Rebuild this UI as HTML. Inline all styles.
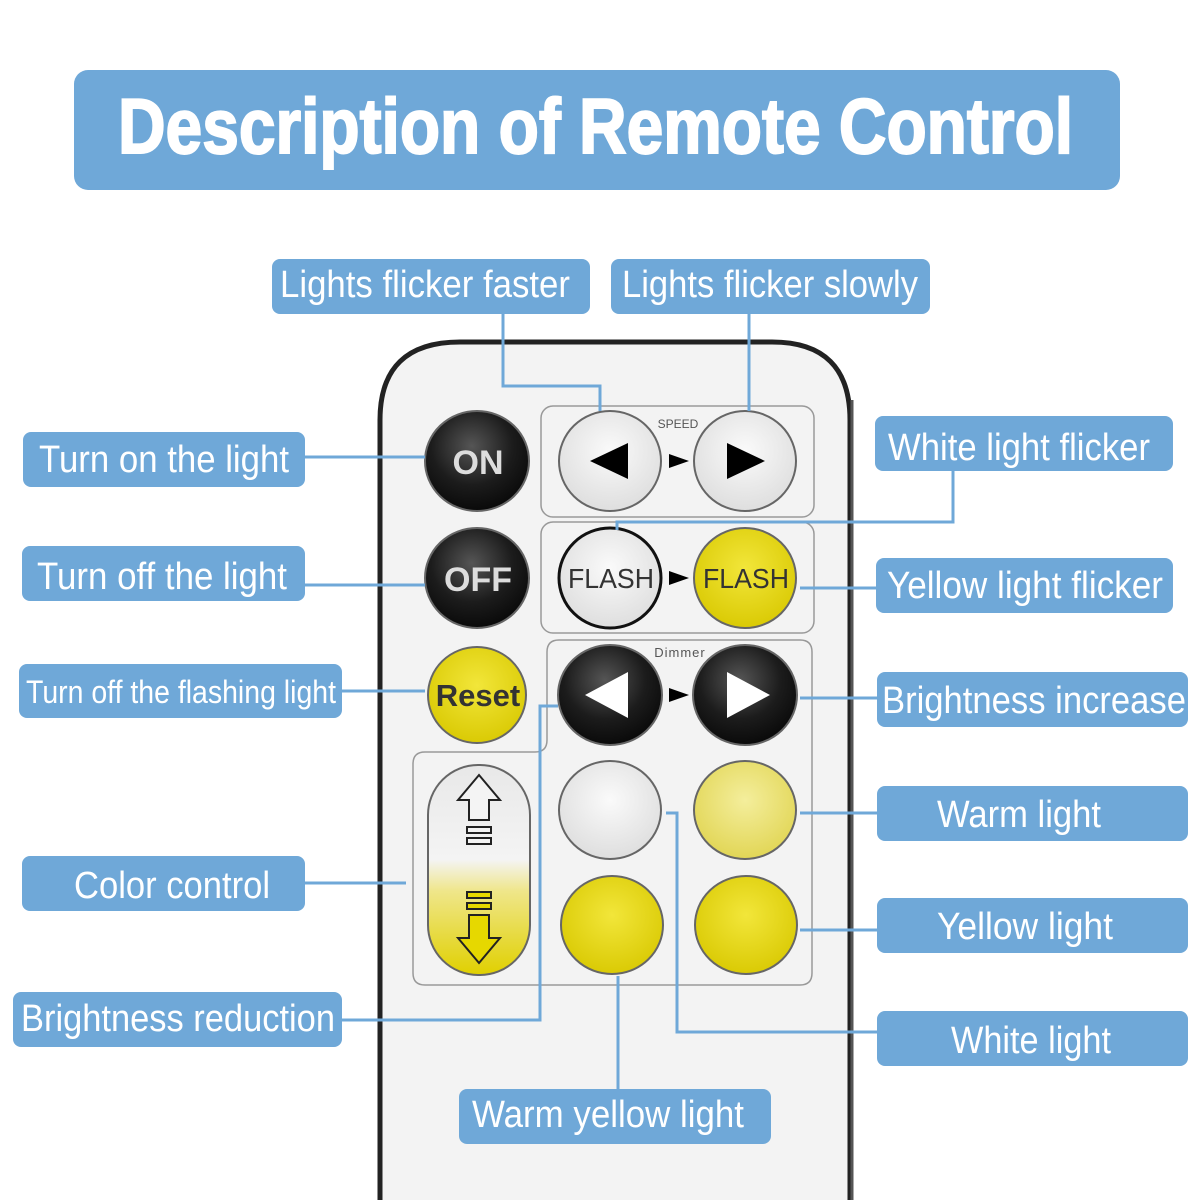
<!DOCTYPE html>
<html><head><style>
html,body{margin:0;padding:0;background:#fff;}
svg{display:block}
.lb{fill:#6fa8d8}
.t{fill:#fff;font-family:"Liberation Sans",sans-serif;font-size:38px}
.c{stroke:#6fa8d8;stroke-width:3;fill:none}
</style></head><body>
<svg width="1200" height="1200" viewBox="0 0 1200 1200" xmlns="http://www.w3.org/2000/svg">
<defs>
<radialGradient id="bk" cx="45%" cy="35%" r="65%"><stop offset="0" stop-color="#555"/><stop offset="0.6" stop-color="#1c1c1c"/><stop offset="1" stop-color="#0a0a0a"/></radialGradient>
<radialGradient id="wh" cx="50%" cy="40%" r="65%"><stop offset="0" stop-color="#fafafa"/><stop offset="1" stop-color="#dcdcdc"/></radialGradient>
<radialGradient id="ye" cx="50%" cy="40%" r="65%"><stop offset="0" stop-color="#f2e63a"/><stop offset="1" stop-color="#d8c800"/></radialGradient>
<radialGradient id="py" cx="50%" cy="40%" r="65%"><stop offset="0" stop-color="#f4ee9c"/><stop offset="1" stop-color="#e0d450"/></radialGradient>
<linearGradient id="pill" x1="0" y1="0" x2="0" y2="1"><stop offset="0" stop-color="#e8e8e8"/><stop offset="0.45" stop-color="#f4f4f4"/><stop offset="0.6" stop-color="#efe68a"/><stop offset="1" stop-color="#e0d000"/></linearGradient>
</defs>
<rect x="74" y="70" width="1046" height="120" rx="14" class="lb"/>
<text x="118" y="153" fill="#fff" stroke="#fff" stroke-width="2" font-family="Liberation Sans,sans-serif" font-weight="bold" font-size="78" textLength="955" lengthAdjust="spacingAndGlyphs">Description of Remote Control</text>

<path d="M380,1200 V420 Q380,342 460,342 H772 Q850,342 850,420 V1200" fill="#f3f3f3" stroke="#222" stroke-width="5"/>
<path d="M852,400 V1200" stroke="#555" stroke-width="3"/>

<g fill="none" stroke="#999" stroke-width="1.5">
<rect x="541" y="406" width="273" height="111" rx="12"/>
<rect x="541" y="522" width="273" height="111" rx="12"/>
<path d="M559,640 H800 Q812,640 812,652 V973 Q812,985 800,985 H425 Q413,985 413,973 V764 Q413,752 425,752 H535 Q547,752 547,740 V652 Q547,640 559,640 Z"/>
</g>

<g stroke="#666" stroke-width="2">
<ellipse cx="477" cy="461" rx="52" ry="50" fill="url(#bk)"/>
<ellipse cx="477" cy="578" rx="52" ry="50" fill="url(#bk)"/>
<ellipse cx="477" cy="695" rx="49" ry="48" fill="url(#ye)"/>
<ellipse cx="610" cy="461" rx="51" ry="50" fill="url(#wh)"/>
<ellipse cx="745" cy="461" rx="51" ry="50" fill="url(#wh)"/>
<ellipse cx="610" cy="578" rx="51" ry="50" fill="url(#wh)" stroke="#111" stroke-width="3"/>
<ellipse cx="745" cy="578" rx="51" ry="50" fill="url(#ye)"/>
<ellipse cx="610" cy="695" rx="52" ry="50" fill="url(#bk)"/>
<ellipse cx="745" cy="695" rx="52" ry="50" fill="url(#bk)"/>
<ellipse cx="610" cy="810" rx="51" ry="49" fill="url(#wh)"/>
<ellipse cx="745" cy="810" rx="51" ry="49" fill="url(#py)"/>
<ellipse cx="612" cy="925" rx="51" ry="49" fill="url(#ye)"/>
<ellipse cx="746" cy="925" rx="51" ry="49" fill="url(#ye)"/>
<rect x="428" y="765" width="102" height="210" rx="50" fill="url(#pill)"/>
</g>
<g font-family="Liberation Sans,sans-serif" font-weight="bold" text-anchor="middle">
<text x="478" y="474" font-size="34" fill="#ddd">ON</text>
<text x="478" y="591" font-size="34" fill="#ddd">OFF</text>
<text x="478" y="706" font-size="31" fill="#333">Reset</text>
</g>
<g font-family="Liberation Sans,sans-serif" text-anchor="middle" fill="#333">
<text x="611" y="588" font-size="28" textLength="86" lengthAdjust="spacingAndGlyphs">FLASH</text>
<text x="746" y="588" font-size="28" textLength="86" lengthAdjust="spacingAndGlyphs">FLASH</text>
<text x="678" y="428" font-size="12" fill="#555">SPEED</text>
<text x="680" y="657" font-size="13" fill="#555" letter-spacing="1">Dimmer</text>
</g>
<g fill="#000">
<polygon points="590,461 628,443 628,479"/>
<polygon points="765,461 727,443 727,479"/>
<polygon points="669,454 689,461 669,468"/>
<polygon points="669,571 689,578 669,585"/>
<polygon points="669,688 689,695 669,702"/>
</g>
<g fill="#fff">
<polygon points="585,695 628,672 628,718"/>
<polygon points="770,695 727,672 727,718"/>
</g>
<g fill="#f4f4f4" stroke="#222" stroke-width="2">
<polygon points="479,775 500,800 489,800 489,820 469,820 469,800 458,800"/>
<rect x="467" y="827" width="24" height="6"/><rect x="467" y="838" width="24" height="6"/>
<rect x="467" y="892" width="24" height="6" fill="#e6d800"/><rect x="467" y="903" width="24" height="6" fill="#e6d800"/>
<polygon points="479,963 500,938 489,938 489,915 469,915 469,938 458,938" fill="#e6d800"/>
</g>

<g class="c">
<path d="M503,314 V386 H600 V411"/>
<path d="M749,314 V411"/>
<path d="M305,457 H425"/>
<path d="M953,471 V522 H617 V530"/>
<path d="M305,585 H425"/>
<path d="M800,588 H876"/>
<path d="M342,691 H425"/>
<path d="M800,698 H877"/>
<path d="M800,813 H877"/>
<path d="M305,883 H406"/>
<path d="M800,930 H877"/>
<path d="M342,1020 H540 V706 H558"/>
<path d="M877,1032 H677 V813 H666"/>
<path d="M618,1089 V976"/>
</g>

<g>
<rect x="272" y="259" width="318" height="55" rx="8" class="lb"/>
<rect x="611" y="259" width="319" height="55" rx="8" class="lb"/>
<rect x="23" y="432" width="282" height="55" rx="8" class="lb"/>
<rect x="875" y="416" width="298" height="55" rx="8" class="lb"/>
<rect x="22" y="546" width="283" height="55" rx="8" class="lb"/>
<rect x="876" y="558" width="297" height="55" rx="8" class="lb"/>
<rect x="19" y="664" width="323" height="54" rx="8" class="lb"/>
<rect x="877" y="672" width="311" height="55" rx="8" class="lb"/>
<rect x="877" y="786" width="311" height="55" rx="8" class="lb"/>
<rect x="22" y="856" width="283" height="55" rx="8" class="lb"/>
<rect x="877" y="898" width="311" height="55" rx="8" class="lb"/>
<rect x="13" y="992" width="329" height="55" rx="8" class="lb"/>
<rect x="877" y="1011" width="311" height="55" rx="8" class="lb"/>
<rect x="459" y="1089" width="312" height="55" rx="8" class="lb"/>
</g>
<g class="t" text-anchor="middle">
<text x="425" y="297" textLength="290" lengthAdjust="spacingAndGlyphs">Lights flicker faster</text>
<text x="770" y="297" textLength="296" lengthAdjust="spacingAndGlyphs">Lights flicker slowly</text>
<text x="164" y="472" textLength="250" lengthAdjust="spacingAndGlyphs">Turn on the light</text>
<text x="1019" y="460" textLength="262" lengthAdjust="spacingAndGlyphs">White light flicker</text>
<text x="162" y="589" textLength="250" lengthAdjust="spacingAndGlyphs">Turn off the light</text>
<text x="1025" y="598" textLength="276" lengthAdjust="spacingAndGlyphs">Yellow light flicker</text>
<text x="181" y="703" font-size="32" textLength="310" lengthAdjust="spacingAndGlyphs">Turn off the flashing light</text>
<text x="1034" y="713" textLength="304" lengthAdjust="spacingAndGlyphs">Brightness increase</text>
<text x="1019" y="827" textLength="164" lengthAdjust="spacingAndGlyphs">Warm light</text>
<text x="172" y="898" textLength="196" lengthAdjust="spacingAndGlyphs">Color control</text>
<text x="1025" y="939" textLength="176" lengthAdjust="spacingAndGlyphs">Yellow light</text>
<text x="178" y="1031" textLength="314" lengthAdjust="spacingAndGlyphs">Brightness reduction</text>
<text x="1031" y="1053" textLength="160" lengthAdjust="spacingAndGlyphs">White light</text>
<text x="608" y="1127" textLength="272" lengthAdjust="spacingAndGlyphs">Warm yellow light</text>
</g>
</svg>
</body></html>
